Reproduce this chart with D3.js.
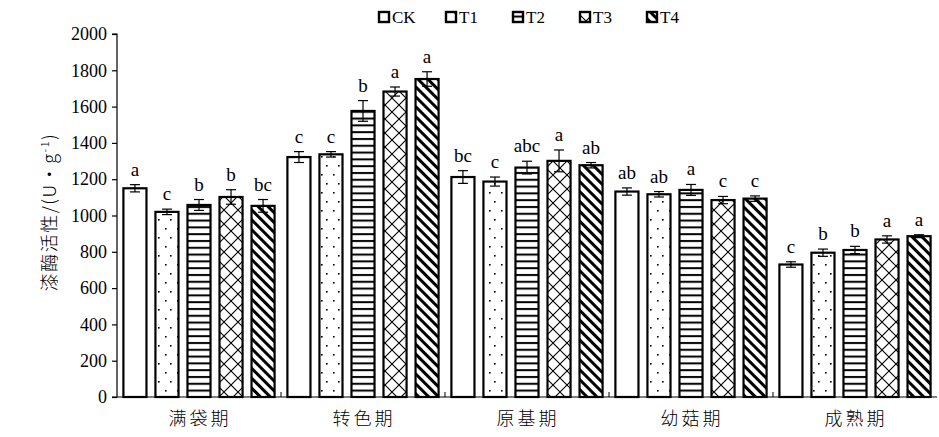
<!DOCTYPE html>
<html>
<head>
<meta charset="utf-8">
<script src="https://cdn.jsdelivr.net/npm/d3@7"></script>
<style>
  body { margin: 0; background: #fff; }
  svg text { fill: #000; }
</style>
</head>
<body>
<div id="chart"></div>
<script>
var w = 939;
var h = 437;

// data
var stages = ['满袋期', '转色期', '原基期', '幼菇期', '成熟期'];
var treatments = ['CK', 'T1', 'T2', 'T3', 'T4'];
var ck = [1150, 1322, 1212, 1132, 730];
var t1 = [1020, 1337, 1187, 1117, 795];
var t2 = [1058, 1576, 1264, 1141, 810];
var t3 = [1102, 1683, 1301, 1085, 868];
var t4 = [1053, 1752, 1277, 1093, 886];
var ckErr = [20, 30, 35, 20, 15];
var t1Err = [15, 15, 25, 15, 20];
var t2Err = [30, 57, 35, 30, 20];
var t3Err = [40, 25, 60, 20, 20];
var t4Err = [35, 40, 15, 15, 8];
var ckSig = ['a', 'c', 'bc', 'ab', 'c'];
var t1Sig = ['c', 'c', 'c', 'ab', 'b'];
var t2Sig = ['b', 'b', 'abc', 'a', 'b'];
var t3Sig = ['b', 'a', 'a', 'c', 'a'];
var t4Sig = ['bc', 'a', 'ab', 'c', 'a'];
var yTicks = [0, 200, 400, 600, 800, 1000, 1200, 1400, 1600, 1800, 2000];

var values = [ck, t1, t2, t3, t4];
var errs = [ckErr, t1Err, t2Err, t3Err, t4Err];
var sigs = [ckSig, t1Sig, t2Sig, t3Sig, t4Sig];

var rows = [];
stages.forEach(function (s, i) {
  treatments.forEach(function (t, j) {
    rows.push({ stage: s, trt: t, k: j, v: values[j][i], e: errs[j][i], sig: sigs[j][i] });
  });
});

var mLeft = 117, mRight = 937, mTop = 34, mBottom = 397;
var serif = '"Liberation Serif", "Times New Roman", serif';
var cjk = '"Noto Sans CJK SC", sans-serif';

var svg = d3.select('#chart')
  .append('svg')
  .attr('width', w)
  .attr('height', h);

// patterns
var defs = svg.append('defs');
var pats = ['p0', 'p1', 'p2', 'p3', 'p4'];

defs.append('pattern').attr('id', 'p0').attr('width', 4).attr('height', 4)
  .attr('patternUnits', 'userSpaceOnUse')
  .append('rect').attr('width', 4).attr('height', 4).attr('fill', '#fff');

var p1 = defs.append('pattern').attr('id', 'p1').attr('width', 12).attr('height', 18)
  .attr('patternUnits', 'userSpaceOnUse');
p1.append('rect').attr('width', 12).attr('height', 18).attr('fill', '#fff');
p1.append('rect').attr('x', 2).attr('y', 3).attr('width', 1.6).attr('height', 1.6).attr('fill', '#000');
p1.append('rect').attr('x', 9).attr('y', 12).attr('width', 1.6).attr('height', 1.6).attr('fill', '#000');

var p2 = defs.append('pattern').attr('id', 'p2').attr('width', 8).attr('height', 6.8)
  .attr('patternUnits', 'userSpaceOnUse');
p2.append('rect').attr('width', 8).attr('height', 6.8).attr('fill', '#fff');
p2.append('rect').attr('y', 2).attr('width', 8).attr('height', 2).attr('fill', '#000');

var p3 = defs.append('pattern').attr('id', 'p3').attr('width', 14).attr('height', 14)
  .attr('patternUnits', 'userSpaceOnUse');
p3.append('rect').attr('width', 14).attr('height', 14).attr('fill', '#fff');
p3.append('path').attr('d', 'M0,0L14,14M14,0L0,14')
  .attr('stroke', '#000').attr('stroke-width', 1.1).attr('fill', 'none');

var p4 = defs.append('pattern').attr('id', 'p4').attr('width', 7).attr('height', 7)
  .attr('patternUnits', 'userSpaceOnUse')
  .attr('patternTransform', 'rotate(-45)');
p4.append('rect').attr('width', 7).attr('height', 7).attr('fill', '#fff');
p4.append('rect').attr('width', 3).attr('height', 7).attr('fill', '#000');

var x0 = d3.scaleBand().domain(stages).range([mLeft, mRight]);
var x1 = d3.scaleBand().domain(treatments).range([0, x0.bandwidth()])
  .paddingInner(0.28).paddingOuter(0.2);
var y = d3.scaleLinear().domain([0, 2000]).range([mBottom, mTop]);

// y axis
var yAxis = svg.append('g')
  .attr('transform', 'translate(' + mLeft + ',0)')
  .call(d3.axisLeft(y).tickValues(yTicks).tickSize(5).tickPadding(5).tickFormat(d3.format('d')));
yAxis.selectAll('text')
  .style('font-family', serif)
  .style('font-size', '18px');
yAxis.selectAll('line, path').attr('stroke', '#000').attr('stroke-width', 1.2);
yAxis.select('.domain').attr('d', 'M-5,' + mTop + 'H0V' + mBottom + 'H-5');

// bars
var bars = svg.append('g');
bars.selectAll('rect')
  .data(rows)
  .enter()
  .append('rect')
  .attr('x', function (d) { return x0(d.stage) + x1(d.trt); })
  .attr('y', function (d) { return y(d.v); })
  .attr('width', x1.bandwidth())
  .attr('height', function (d) { return mBottom - y(d.v); })
  .attr('fill', function (d) { return 'url(#' + pats[d.k] + ')'; })
  .attr('stroke', '#000')
  .attr('stroke-width', 2.2);

// x axis line and group ticks
svg.append('line')
  .attr('x1', mLeft).attr('x2', mRight)
  .attr('y1', mBottom).attr('y2', mBottom)
  .attr('stroke', '#000').attr('stroke-width', 1.2);
svg.append('g').selectAll('line')
  .data(stages.slice(1))
  .enter()
  .append('line')
  .attr('x1', function (d) { return x0(d); })
  .attr('x2', function (d) { return x0(d); })
  .attr('y1', mBottom).attr('y2', mBottom - 5)
  .attr('stroke', '#000').attr('stroke-width', 1);

// error bars
var eb = svg.append('g').attr('stroke', '#000').attr('stroke-width', 1.2);
rows.forEach(function (d) {
  var cx = x0(d.stage) + x1(d.trt) + x1.bandwidth() / 2;
  eb.append('line').attr('x1', cx).attr('x2', cx)
    .attr('y1', y(d.v + d.e)).attr('y2', y(d.v - d.e));
  eb.append('line').attr('x1', cx - 5).attr('x2', cx + 5)
    .attr('y1', y(d.v + d.e)).attr('y2', y(d.v + d.e));
  eb.append('line').attr('x1', cx - 5).attr('x2', cx + 5)
    .attr('y1', y(d.v - d.e)).attr('y2', y(d.v - d.e));
});

// significance letters
svg.append('g').selectAll('text')
  .data(rows)
  .enter()
  .append('text')
  .attr('x', function (d) { return x0(d.stage) + x1(d.trt) + x1.bandwidth() / 2; })
  .attr('y', function (d) { return y(d.v + d.e) - 9; })
  .attr('text-anchor', 'middle')
  .style('font-family', serif)
  .style('font-size', '19px')
  .text(function (d) { return d.sig; });

// category labels
svg.append('g').selectAll('text')
  .data(stages)
  .enter()
  .append('text')
  .attr('x', function (d) { return x0(d) + x0.bandwidth() / 2 + 1; })
  .attr('y', 425)
  .attr('text-anchor', 'middle')
  .style('font-family', cjk)
  .style('font-size', '18px')
  .style('font-weight', 300)
  .style('letter-spacing', '3px')
  .text(function (d) { return d; });

// y label
var yl = svg.append('text')
  .attr('transform', 'translate(56,212) rotate(-90)')
  .attr('text-anchor', 'middle')
  .style('font-family', cjk)
  .style('font-size', '18px')
  .style('font-weight', 300)
  .style('letter-spacing', '1.5px');
yl.append('tspan').text('漆酶活性/(U·g');
yl.append('tspan').attr('dy', -7).style('font-size', '11px').text('-1');
yl.append('tspan').attr('dy', 7).text(')');

// legend
var lg = svg.append('g').selectAll('g')
  .data(treatments)
  .enter()
  .append('g')
  .attr('transform', function (d, i) { return 'translate(' + (378 + i * 67) + ',0)'; });
lg.append('rect')
  .attr('x', 1).attr('y', 12).attr('width', 10).attr('height', 10)
  .attr('fill', function (d, i) { return 'url(#' + pats[i] + ')'; })
  .attr('stroke', '#000').attr('stroke-width', 2.4);
lg.append('text')
  .attr('x', 14).attr('y', 23)
  .style('font-family', serif)
  .style('font-size', '17px')
  .text(function (d) { return d; });
</script>
</body>
</html>
